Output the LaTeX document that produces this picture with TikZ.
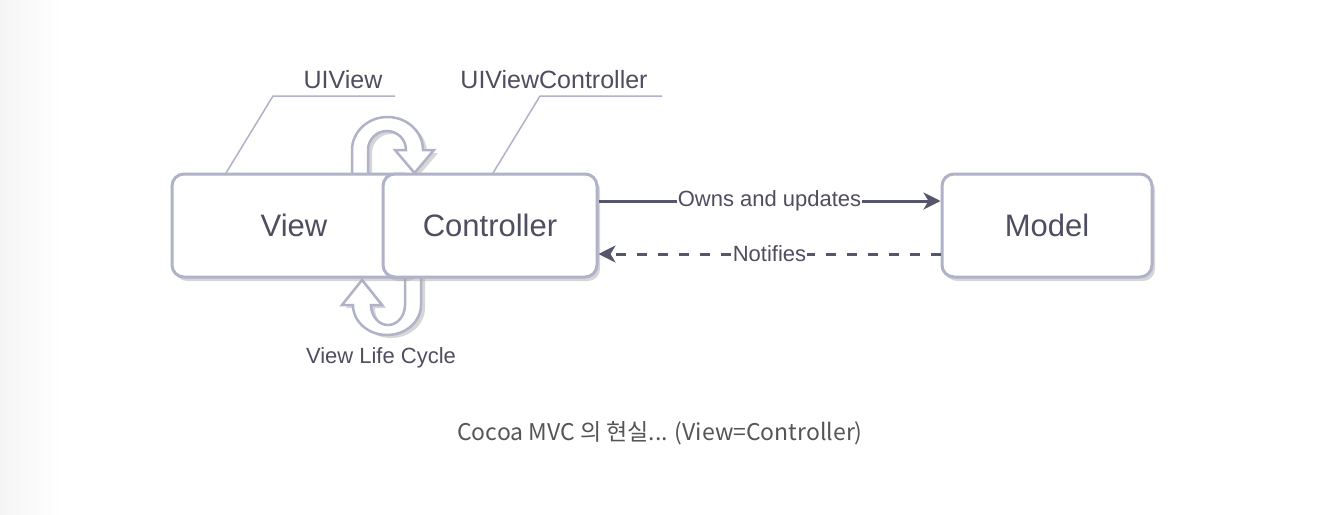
\documentclass[tikz,border=0pt]{standalone}
\usepackage{fontspec}
\setmainfont{Liberation Sans}
\newfontfamily\kofont{Noto Sans CJK KR}
\usetikzlibrary{arrows.meta,shadows}
\definecolor{boxline}{RGB}{176,178,200}
\definecolor{txt}{RGB}{78,78,96}
\definecolor{arr}{RGB}{85,86,107}
\definecolor{capt}{RGB}{85,85,85}
\definecolor{leftbg}{RGB}{245,245,245}
\tikzset{
  box/.style={draw=boxline, line width=3pt, fill=white, rounded corners=12pt,
    minimum height=103pt, inner sep=0pt, text=txt, font=\fontsize{31}{36}\selectfont,
    drop shadow={shadow xshift=3pt, shadow yshift=-4pt, fill=gray!70, opacity=0.45}},
  loop/.style={draw=boxline, line width=2.5pt, fill=white, line join=miter,
    drop shadow={shadow xshift=4pt, shadow yshift=-3pt, fill=gray!70, opacity=0.45}},
  tag/.style={text=txt, font=\fontsize{25}{30}\selectfont, inner sep=0pt},
  small/.style={text=txt, font=\fontsize{22}{26}\selectfont},
  callout/.style={draw=boxline, line width=1.5pt},
  flow/.style={draw=arr, line width=3pt, -{Stealth[length=17pt,width=17pt,inset=5pt]}},
  elabel/.style={fill=white, text=txt, font=\fontsize{22}{26}\selectfont, inner sep=1pt}
}
\begin{document}
\begin{tikzpicture}[x=1pt,y=1pt]
\useasboundingbox (0,0) rectangle (1322,-514);
\fill[white] (0,0) rectangle (1322,-514);
\shade[left color=leftbg, right color=white] (0,0) rectangle (60,-514);

% life cycle loops
\path[loop] (352,-176) -- (352,-150)
  arc[start angle=180, end angle=0, x radius=35.5, y radius=33]
  -- (434,-150) -- (414.5,-173) -- (395,-150) -- (406,-150)
  arc[start angle=0, end angle=180, radius=19]
  -- (368,-176) -- cycle;
\path[loop] (421,-276) -- (421,-305)
  arc[start angle=0, end angle=-180, x radius=34, y radius=30]
  -- (342,-305) -- (362,-280) -- (382,-305) -- (371,-305)
  arc[start angle=-180, end angle=0, x radius=17, y radius=20]
  -- (405,-276) -- cycle;

% boxes
\node[box, minimum width=244pt] (V) at (294,-225.5) {View};
\node[box, minimum width=214pt] (C) at (490,-225.5) {Controller};
\node[box, minimum width=210pt] (M) at (1047,-225.5) {Model};

% callouts
\node[tag] (uv) at (343,-80) {UIView};
\node[tag] (uvc) at (554,-80) {UIViewController};
\coordinate (uvA) at (395,-96);
\coordinate (uvB) at (273,-96);
\coordinate (uvC) at (226,-173);
\coordinate (ucA) at (662,-96);
\coordinate (ucB) at (540,-96);
\coordinate (ucC) at (493,-173);
\draw[callout] (uvA) -- (uvB) -- (uvC);
\draw[callout] (ucA) -- (ucB) -- (ucC);

% flows
\draw[flow] ([yshift=24.5pt]C.east) -- node[elabel] {Owns and updates} ([yshift=24.5pt]M.west);
\draw[flow, dash pattern=on 10pt off 11pt] ([yshift=-28.5pt]M.west) -- node[elabel] {Notifies} ([yshift=-28.5pt]C.east);

\node[small] (lc) at (381,-358) {View Life Cycle};

% caption
\node[text=capt, font=\kofont\fontsize{23}{27}\selectfont] (cap) at (660,-433) {Cocoa MVC 의 현실... (View=Controller)};
\end{tikzpicture}
\end{document}
